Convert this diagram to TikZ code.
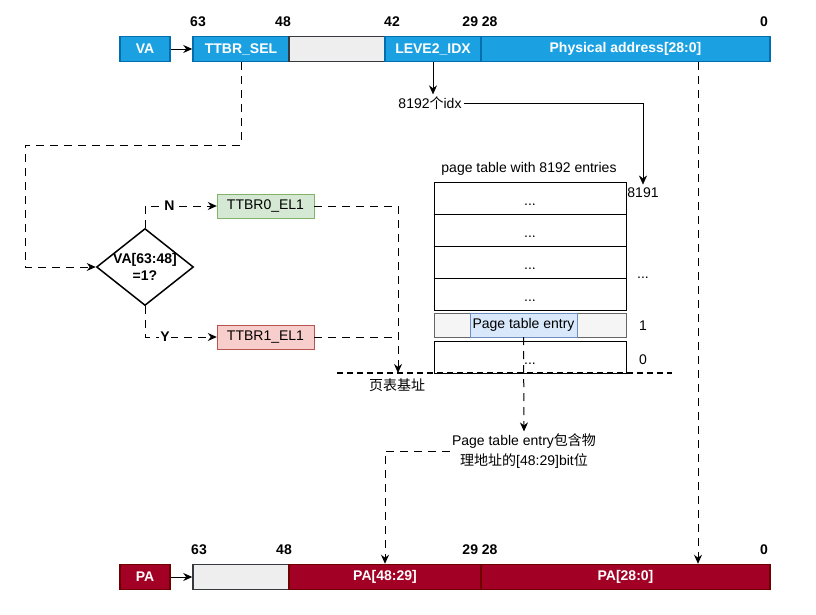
\documentclass[tikz,border=0pt]{standalone}
\usepackage{fontspec}
\setmainfont{Liberation Sans}
\newfontfamily\cjk{Noto Sans CJK SC}
\usetikzlibrary{positioning, arrows.meta, shapes.geometric}

\definecolor{vafill}{HTML}{1BA1E2}
\definecolor{vaedge}{HTML}{006EAF}
\definecolor{pafill}{HTML}{A20025}
\definecolor{paedge}{HTML}{6F0000}
\definecolor{greyfill}{HTML}{EEEEEE}
\definecolor{greyedge}{HTML}{36393D}
\definecolor{ttzerofill}{HTML}{D5E8D4}
\definecolor{ttzeroedge}{HTML}{82B366}
\definecolor{ttonefill}{HTML}{F8CECC}
\definecolor{ttoneedge}{HTML}{B85450}
\definecolor{ptefill}{HTML}{DAE8FC}
\definecolor{pteedge}{HTML}{6C8EBF}
\definecolor{rowfill}{HTML}{F5F5F5}
\definecolor{rowedge}{HTML}{666666}

\begin{document}
\begin{tikzpicture}[x=1pt, y=-1pt, font=\fontsize{14}{17}\selectfont,
  >={Stealth[length=9pt, width=8pt]},
  field/.style={draw, line width=1.5pt, minimum height=25, inner sep=0, font=\fontsize{14}{17}\selectfont\bfseries},
  vafield/.style={field, draw=vaedge, fill=vafill, text=white},
  pafield/.style={field, draw=paedge, fill=pafill, text=white},
  blank/.style={field, draw=greyedge, fill=greyfill},
  bitnum/.style={inner sep=1, font=\fontsize{14}{17}\selectfont\bfseries},
  regbox/.style={draw, minimum width=97, minimum height=24, inner sep=0},
  ptrow/.style={draw, minimum width=192, minimum height=32, inner sep=0, text height=14pt, text depth=0pt},
  dashline/.style={line width=1pt, dash pattern=on 8pt off 6pt}]
\useasboundingbox (0,0) rectangle (816,614);

% Virtual address
\node[vafield, minimum width=50] (va) at (145,49) {VA};
\node[vafield, minimum width=96] (ttbrsel) at (241,49) {TTBR\_SEL};
\node[blank, minimum width=96] (vagap) at (337,49) {};
\node[vafield, minimum width=96] (leve2) at (433,49) {LEVE2\_IDX};
\node[vafield, minimum width=289] (vaphys) at (625.5,49) {Physical address[28:0]};
\draw[->, thick] (va) -- (ttbrsel);
\node[bitnum] at (198,22) {63};
\node[bitnum] at (283,22) {48};
\node[bitnum] at (392,22) {42};
\node[bitnum] at (480,22) {29 28};
\node[bitnum] at (764,22) {0};

% Index into the page table
\node[inner sep=2] (idx) at (430,103) {8192{\cjk 个}idx};
\draw[->, thick] (leve2.south) -- (leve2.south |- idx.north);

% Page table
\node (pttitle) at (529,169) {page table with 8192 entries};
\foreach \i/\y in {4/198, 3/230, 2/262, 1/294}
  \node[ptrow] (row\i) at (530,\y) {...};
\node[ptrow, draw=rowedge, fill=rowfill, minimum height=24] (entryrow) at (530,325) {};
\node[draw=pteedge, fill=ptefill, minimum width=107, minimum height=24, inner sep=0] (pte) at (523.5,325) {Page table entry};
\node[ptrow] (row0) at (530,357) {...};
\node (n8191) at (643,193) {8191};
\node at (643,278) {...};
\node at (643,326) {1};
\node at (643,360) {0};
\draw[->] (idx.east) -| (n8191.north);

% Table base line
\draw[line width=1.6pt, dash pattern=on 6pt off 4pt] (337,373) -- (672,373);
\coordinate (base) at (398,373);
\node (baselbl) at (397,385) {\cjk 页表基址};

% Choose TTBR
\node[draw, line width=1.5pt, shape=diamond, aspect=1.26, minimum width=97, minimum height=77, inner sep=-2pt, align=center, font=\fontsize{14}{17}\selectfont\bfseries] (dec) at (145,267) {VA[63:48]\\=1?};
\node[regbox, draw=ttzeroedge, fill=ttzerofill] (ttbr0) at (265.5,206) {TTBR0\_EL1};
\node[regbox, draw=ttoneedge, fill=ttonefill] (ttbr1) at (265.5,337) {TTBR1\_EL1};
\draw[dashline, ->] (ttbrsel.south) -- ++(0,83) -| (25,267) -- (dec.west);
\draw[dashline, ->] (dec.north) |- node[pos=0.67, fill=white, inner sep=1, font=\fontsize{14}{17}\selectfont\bfseries] {N} (ttbr0.west);
\draw[dashline, ->] (dec.south) |- node[pos=0.64, fill=white, inner sep=1, font=\fontsize{14}{17}\selectfont\bfseries] {Y} (ttbr1.west);
\draw[dashline, ->] (ttbr0.east) -| (base);
\draw[dashline] (ttbr1.east) -- (ttbr1.east -| base);

% Entry holds PA[48:29]
\node[align=center, inner sep=2, font=\fontsize{14}{20}\selectfont] (note) at (524,451) {Page table entry{\cjk 包含物}\\{\cjk 理地址的}[48:29]bit{\cjk 位}};
\draw[dashline, ->] (pte.south) -- (note.north);

% Physical address
\node[pafield, minimum width=50] (pa) at (145,577) {PA};
\node[blank, minimum width=96] (pagap) at (241,577) {};
\node[pafield, minimum width=192] (pahigh) at (385,577) {PA[48:29]};
\node[pafield, minimum width=289] (palow) at (625.5,577) {PA[28:0]};
\draw[->, thick] (pa) -- (pagap);
\node[bitnum] at (199,550) {63};
\node[bitnum] at (284,550) {48};
\node[bitnum] at (480,550) {29 28};
\node[bitnum] at (764,550) {0};

\draw[dashline, ->] (note.west) -| (pahigh.north);
\draw[dashline, ->] ([xshift=72.5]vaphys.south) -- ([xshift=72.5]palow.north);
\end{tikzpicture}
\end{document}
